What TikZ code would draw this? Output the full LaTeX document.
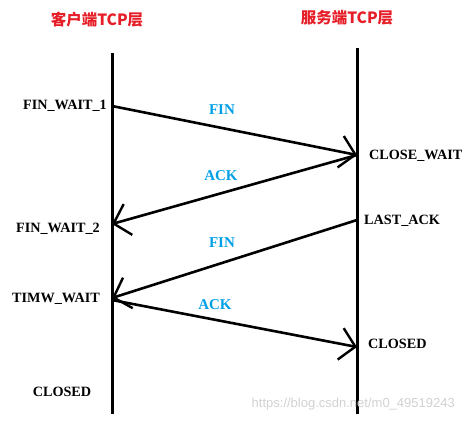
\documentclass[tikz,border=0pt]{standalone}
\usepackage{fontspec}
\setmainfont{Liberation Serif}
\newfontfamily\cjkfont{Noto Sans CJK SC}
\usetikzlibrary{arrows.meta}
\definecolor{titlered}{RGB}{230,30,40}
\definecolor{msgblue}{RGB}{0,160,230}
\begin{document}
\begin{tikzpicture}[x=1pt,y=-1pt,
  lifeline/.style={line width=3pt},
  msg/.style={line width=2.6pt,-{Straight Barb[length=15pt,width=32pt,line width=2.4pt]}},
  state/.style={font=\bfseries\fontsize{14.2}{15}\selectfont,inner sep=0pt},
  msglabel/.style={font=\bfseries\fontsize{15}{15}\selectfont,text=msgblue,inner sep=0pt},
  titletext/.style={font=\cjkfont\bfseries\fontsize{15.5}{16}\selectfont,text=titlered,inner sep=0pt}]
\useasboundingbox (0,0) rectangle (464,422);
% titles
\node[titletext] (tc) at (97,20) {客户端TCP层};
\node[titletext] (ts) at (347,18) {服务端TCP层};
% lifelines
\coordinate (ctop) at (112,53);
\coordinate (cbot) at (112,414);
\coordinate (stop) at (357,48);
\coordinate (sbot) at (357,414);
\draw[lifeline] (ctop) -- (cbot);
\draw[lifeline] (stop) -- (sbot);
% message endpoints
\coordinate (c1) at (112,106);
\coordinate (s1) at (357,155);
\coordinate (c2) at (112,224);
\coordinate (s2) at (357,220);
\coordinate (c3) at (112,298);
\coordinate (c4) at (112,300);
\coordinate (s4) at (357,347);
\draw[msg] (c1) -- (s1);
\draw[msg] (s1) -- (c2);
\draw[msg] (s2) -- (c3);
\draw[msg] (c4) -- (s4);
% message labels
\node[msglabel] (l1) at (222,110) {FIN};
\node[msglabel] (l2) at (221,176) {ACK};
\node[msglabel] (l3) at (222,243) {FIN};
\node[msglabel] (l4) at (215,305) {ACK};
% states
\node[state,anchor=east] (fw1) at (107,106) {FIN\_WAIT\_1};
\node[state,anchor=west] (cw) at (369,156) {CLOSE\_WAIT};
\node[state,anchor=east] (fw2) at (100,229) {FIN\_WAIT\_2};
\node[state,anchor=west] (la) at (364,221) {LAST\_ACK};
\node[state,anchor=east] (tw) at (100,299) {TIMW\_WAIT};
\node[state] (cl1) at (62,392) {CLOSED};
\node[state,anchor=west] (cl2) at (368,344) {CLOSED};
% watermark
\node[font=\fontspec{Liberation Sans}\fontsize{13}{14}\selectfont,text=black!18,anchor=east,inner sep=0pt] (wm) at (455,404) {https://blog.csdn.net/m0\_49519243};
\end{tikzpicture}
\end{document}
